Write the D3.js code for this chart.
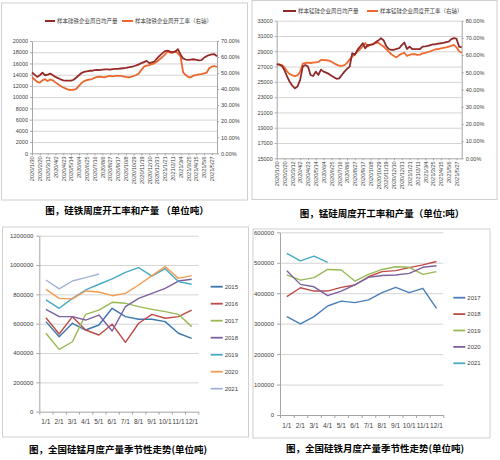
<!DOCTYPE html>
<html>
<head>
<meta charset="utf-8">
<script src="https://cdn.jsdelivr.net/npm/d3@7"></script>
<style>
  body { margin: 0; background: #fff; }
  text { font-family: "Liberation Sans", Arial, sans-serif; fill: #404040; }
  .cjk { font-family: "Noto Sans CJK SC", sans-serif; }
  .title { font-family: "Noto Sans CJK SC", sans-serif; font-weight: bold; fill: #000; font-size: 9.5px; }
  .grid line { stroke: #d4d4d4; }
  .grid path { display: none; }
  .ax path, .ax line { stroke: #a6a6a6; }
</style>
</head>
<body>
<svg id="canvas" width="500" height="460"></svg>
<script>
// weekly category labels (every 3rd week)
const weekLabels = ["2020/1/30","2020/2/20","2020/3/12","2020/4/2","2020/4/23","2020/5/14","2020/6/4","2020/6/25",
  "2020/7/16","2020/8/6","2020/8/27","2020/9/17","2020/10/8","2020/10/29","2020/11/19","2020/12/10",
  "2020/12/31","2021/1/21","2021/2/11","2021/3/4","2021/3/25","2021/4/15","2021/5/6","2021/5/27"];

// 硅铁 weekly: output (t/day) and operating rate (%)
const siFeOutput = [14400,14000,13600,13900,14350,13900,14000,14200,13900,13600,
  13400,13150,13000,12950,12950,12930,13100,13500,13900,14300,
  14500,14600,14700,14700,14800,14850,14800,14900,14950,14950,
  14900,15000,15050,15050,15100,15150,15200,15300,15400,15500,
  15650,15850,16050,16250,16450,16050,16200,16350,16900,17400,
  17800,18200,18300,18100,18000,18100,18550,17600,16900,16700,
  16650,16700,16750,16650,16550,16600,17000,17300,17500,17600,
  17650,17300];
const siFeRate = [47.4,46,44.5,44,45.5,46.2,45,46,45.5,44.2,
  43,42,41,40.3,39.6,39.5,39.6,40.2,42,43.8,
  45,45.6,46,46.3,47,47.6,47.8,47.5,47.4,48,
  48.2,48,48.2,48.3,48.2,48,47.6,47.4,47.6,48.2,
  48.8,49.8,52,54,54.6,55,55.6,56.1,57.2,58.6,
  60,61.5,63.3,62.8,62.6,63.8,62.2,60.5,50.5,48.8,
  47.5,47.4,48.5,48.8,49.2,49.4,49.8,50.2,53,54,
  54.4,53.8];

// 锰硅 weekly
const siMnOutput = [27300,27250,27100,26500,25700,25000,24500,24160,24400,25250,
  27000,27200,27000,25900,25770,26340,25900,26600,26340,26200,
  26040,25800,25600,25400,25450,25900,26340,26700,26990,28750,
  28530,29180,29600,30050,29400,29840,29840,29900,30200,30400,
  30710,30450,29700,29300,29180,29200,29300,29400,29800,30140,
  29300,29610,29300,29270,29270,29300,29610,29650,29700,29800,
  29900,29920,30000,30050,30100,30200,30270,30600,30710,30650,
  29610,29520];
const siMnRate = [54.8,54.6,54.2,52.8,50.5,49,48.2,47.8,48.2,50.3,
  55,55.4,55.6,55.4,55.6,55.8,56,57.2,57.1,57,
  56.8,56.2,55.2,54.5,53.8,53.7,54.2,55.5,57.5,59.1,
  60.5,62,63.4,65,67,65,66,66.6,67,67.2,
  66,65,63.5,62,60.5,59.5,58.7,60,60.8,61.4,
  59.5,60.2,60.6,60.5,60.1,60.3,61,61.3,61.8,62.2,
  62.8,63.4,63.5,63.9,64.2,64.5,64.9,65.4,65.9,64.5,
  62.2,61.4];

// monthly seasonal
const months = ["1/1","2/1","3/1","4/1","5/1","6/1","7/1","8/1","9/1","10/1","11/1","12/1"];

const mn2015 = [614000,511000,603000,557000,591000,705000,648000,630000,630000,614000,535000,500000];
const mn2016 = [641000,530000,648000,557000,523000,596000,473000,603000,664000,637000,648000,693000];
const mn2017 = [535000,425000,477000,664000,693000,746000,739000,716000,698000,682000,664000,580000];
const mn2018 = [698000,648000,648000,625000,659000,550000,716000,773000,807000,841000,891000,903000];
const mn2019 = [762000,705000,773000,830000,869000,906000,950000,982000,925000,975000,887000,869000];
const mn2020 = [834000,773000,769000,823000,816000,791000,807000,864000,928000,989000,909000,928000];
const mn2021 = [898000,837000,891000,914000,939000];

const fe2017 = [323000,299000,323000,358000,374000,369000,378000,402000,419000,402000,416000,350000];
const fe2018 = [389000,418000,407000,407000,419000,427000,454000,471000,474000,484000,493000,504000];
const fe2019 = [460000,443000,451000,478000,476000,440000,462000,478000,487000,485000,462000,471000];
const fe2020 = [474000,429000,421000,392000,407000,427000,452000,458000,460000,465000,485000,490000];
const fe2021 = [531000,506000,522000,501000];

const svg = d3.select('#canvas');
const plain = d3.format('d');

// panel frames
const frames = [[1.5, 3, 246, 197], [252, 0.5, 245, 199], [2.5, 227, 246, 210], [253, 229, 237, 209]];
svg.selectAll('rect.frame').data(frames).enter().append('rect')
  .attr('x', d => d[0]).attr('y', d => d[1]).attr('width', d => d[2]).attr('height', d => d[3])
  .attr('fill', 'none').attr('stroke', '#cfcfcf');

function styleAxis(g, size) {
  g.attr('class', 'ax').attr('font-size', null).attr('font-family', null);
  g.selectAll('text').style('font-size', size + 'px');
}

function weeklyChart(c) {
  const g = svg.append('g');
  const n = c.output.length;
  const x = d3.scalePoint().domain(d3.range(n)).range([c.x0, c.x1]);
  const yL = d3.scaleLinear().domain(c.lDomain).range([c.yb, c.yt]);
  const yR = d3.scaleLinear().domain(c.rDomain).range([c.yb, c.yt]);
  const lTicks = d3.range(c.lDomain[0], c.lDomain[1] + 1, c.lStep);
  const rTicks = d3.range(0, c.rDomain[1] + 0.001, 0.1);

  g.append('g').attr('class', 'grid').attr('transform', `translate(${c.x0},0)`)
    .call(d3.axisLeft(yL).tickValues(lTicks.slice(1)).tickSize(-(c.x1 - c.x0)).tickFormat(''));

  g.append('g').attr('transform', `translate(${c.x0},0)`)
    .call(d3.axisLeft(yL).tickValues(lTicks).tickFormat(plain).tickSize(2).tickPadding(2).tickSizeOuter(0))
    .call(a => styleAxis(a, 5.5));
  g.append('g').attr('transform', `translate(${c.x1},0)`)
    .call(d3.axisRight(yR).tickValues(rTicks).tickFormat(d3.format('.2%')).tickSize(2).tickPadding(2).tickSizeOuter(0))
    .call(a => styleAxis(a, 5.5));

  const tickIdx = weekLabels.map((d, i) => i * 3);
  g.append('g').attr('transform', `translate(0,${c.yb})`)
    .call(d3.axisBottom(x).tickValues(tickIdx).tickFormat(i => weekLabels[i / 3]).tickSize(2).tickSizeOuter(0))
    .call(a => styleAxis(a, 5.6))
    .call(a => a.selectAll('text').attr('transform', 'rotate(-90)')
      .attr('x', -3).attr('y', 0).attr('dy', '0.32em').style('text-anchor', 'end'));

  const lineL = d3.line().x((d, i) => x(i)).y(d => yL(d));
  const lineR = d3.line().x((d, i) => x(i)).y(d => yR(d / 100));
  g.append('path').datum(c.rate).attr('d', lineR)
    .attr('fill', 'none').attr('stroke', c.colR).attr('stroke-width', 1.8).attr('stroke-linejoin', 'round');
  g.append('path').datum(c.output).attr('d', lineL)
    .attr('fill', 'none').attr('stroke', c.colL).attr('stroke-width', 1.8).attr('stroke-linejoin', 'round');

  // legend
  c.legend.forEach((L, i) => {
    g.append('line').attr('x1', L[0]).attr('x2', L[1]).attr('y1', c.ly).attr('y2', c.ly)
      .attr('stroke', i ? c.colR : c.colL).attr('stroke-width', 2);
    g.append('text').attr('class', 'cjk').attr('x', L[1] + 2).attr('y', c.ly).attr('dy', '0.35em')
      .style('font-size', '5.5px').text(L[2]);
  });

  g.append('text').attr('class', 'title').attr('x', c.tx).attr('y', c.ty)
    .attr('text-anchor', 'middle').text(c.title);
}

weeklyChart({
  output: siFeOutput, rate: siFeRate,
  x0: 32, x1: 217, yb: 153.3, yt: 41,
  lDomain: [0, 20000], lStep: 2000, rDomain: [0, 0.7],
  colL: '#962a28', colR: '#e9672e',
  ly: 21,
  legend: [[45, 55, '样本硅铁企业周日均产量'], [122, 133, '样本硅铁企业周开工率（右轴）']],
  title: '图，硅铁周度开工率和产量 （单位吨）', tx: 127, ty: 213.5
});

weeklyChart({
  output: siMnOutput, rate: siMnRate,
  x0: 276.7, x1: 461.7, yb: 158.3, yt: 20.7,
  lDomain: [15000, 33000], lStep: 2000, rDomain: [0, 0.8],
  colL: '#8e2a2a', colR: '#ef6a30',
  ly: 11,
  legend: [[283, 296, '样本锰硅企业周日均产量'], [367, 378, '样本锰硅企业周度开工率（右轴）']],
  title: '图，锰硅周度开工率和产量（单位:吨）', tx: 382, ty: 217
});

function seasonalChart(c) {
  const g = svg.append('g');
  const x = d3.scaleBand().domain(months).range([c.x0, c.x1]);
  const xb = d3.scaleLinear().domain([0, 12]).range([c.x0, c.x1]);
  const y = d3.scaleLinear().domain([0, c.yMax]).range([c.yb, c.yt]);
  const ticks = d3.range(0, c.yMax + 1, c.yStep);

  g.append('g').attr('class', 'grid').attr('transform', `translate(${c.x0},0)`)
    .call(d3.axisLeft(y).tickValues(ticks.slice(1)).tickSize(-(c.x1 - c.x0)).tickFormat(''));
  g.append('g').attr('transform', `translate(${c.x0},0)`)
    .call(d3.axisLeft(y).tickValues(ticks).tickFormat(plain).tickSize(3).tickPadding(3).tickSizeOuter(0))
    .call(a => styleAxis(a, 6));
  g.append('g').attr('transform', `translate(0,${c.yb})`)
    .call(d3.axisBottom(xb).tickValues(d3.range(13)).tickFormat('').tickSize(3).tickSizeOuter(0))
    .call(a => styleAxis(a, 6));
  g.append('g').attr('transform', `translate(0,${c.yb})`)
    .call(d3.axisBottom(x).tickSize(0).tickPadding(8))
    .call(a => a.select('.domain').remove())
    .call(a => styleAxis(a, 6.6));

  const line = d3.line().x((d, i) => x(months[i]) + x.bandwidth() / 2).y(d => y(d));
  c.series.forEach(s => {
    g.append('path').datum(s.values).attr('d', line)
      .attr('fill', 'none').attr('stroke', s.color).attr('stroke-width', 1.4).attr('stroke-linejoin', 'round');
  });

  c.series.forEach((s, i) => {
    const ly = c.ly + i * c.lStep;
    g.append('line').attr('x1', c.lx).attr('x2', c.lx + 12).attr('y1', ly).attr('y2', ly)
      .attr('stroke', s.color).attr('stroke-width', 1.8);
    g.append('text').attr('x', c.lx + 14).attr('y', ly).attr('dy', '0.35em')
      .style('font-size', '6px').text(s.name);
  });

  g.append('text').attr('class', 'title').attr('x', c.tx).attr('y', c.ty)
    .attr('text-anchor', 'middle').text(c.title);
}

seasonalChart({
  x0: 39.3, x1: 198.3, yb: 411.7, yt: 235.7, yMax: 1200000, yStep: 200000,
  series: [
    { name: '2015', values: mn2015, color: '#3a77ae' },
    { name: '2016', values: mn2016, color: '#be4b48' },
    { name: '2017', values: mn2017, color: '#98b954' },
    { name: '2018', values: mn2018, color: '#7d60a0' },
    { name: '2019', values: mn2019, color: '#46aac5' },
    { name: '2020', values: mn2020, color: '#f59b52' },
    { name: '2021', values: mn2021, color: '#a3b2d8' }
  ],
  lx: 210.7, ly: 286.7, lStep: 17,
  title: '图，全国硅锰月度产量季节性走势(单位吨)', tx: 118, ty: 453
});

seasonalChart({
  x0: 280, x1: 443.3, yb: 415, yt: 232.3, yMax: 600000, yStep: 100000,
  series: [
    { name: '2017', values: fe2017, color: '#4a7ebb' },
    { name: '2018', values: fe2018, color: '#be4b48' },
    { name: '2019', values: fe2019, color: '#98b954' },
    { name: '2020', values: fe2020, color: '#7d60a0' },
    { name: '2021', values: fe2021, color: '#46aac5' }
  ],
  lx: 453.3, ly: 297.7, lStep: 16.4,
  title: '图，全国硅铁月度产量季节性走势(单位吨)', tx: 375, ty: 452
});
</script>
</body>
</html>
